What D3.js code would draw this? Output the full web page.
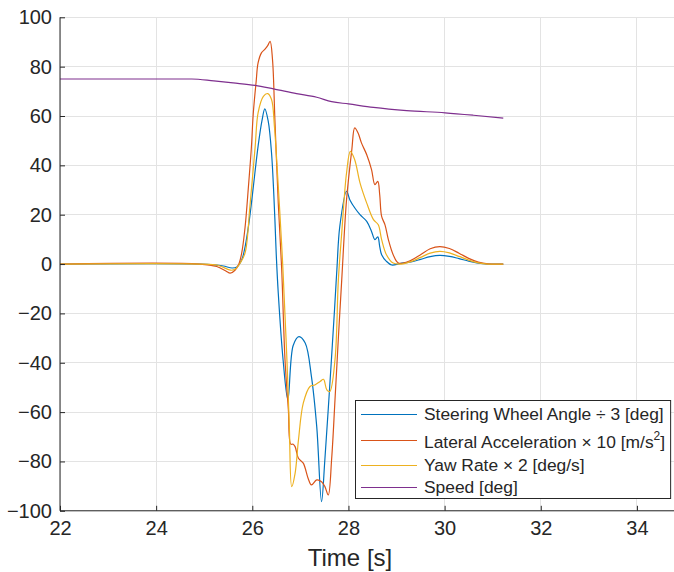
<!DOCTYPE html>
<html><head><meta charset="utf-8">
<script src="https://cdn.jsdelivr.net/npm/d3@7"></script>
<style>
body{margin:0;background:#fff}
svg{display:block}
text{font-family:"Liberation Sans",Arial,Helvetica,sans-serif;fill:#262626}
</style>
</head><body>
<svg id="c" width="674" height="572"></svg>
<script>
// ---------- data ----------
const xTicks = [22, 24, 26, 28, 30, 32, 34];
const yTicks = [-100, -80, -60, -40, -20, 0, 20, 40, 60, 80, 100];
const xLabel = "Time [s]";
const legendLabels = [
  "Steering Wheel Angle \u00F7 3 [deg]",
  "Lateral Acceleration \u00D7 10 [m/s^2]",
  "Yaw Rate \u00D7 2 [deg/s]",
  "Speed [deg]"
];
const seriesColors = ["#0072BD", "#D95319", "#EDB120", "#7E2F8E"];

const steerT = [22, 24.9, 25.2, 25.4, 25.58, 25.68, 25.78, 25.85, 25.92, 25.99, 26.06, 26.12, 26.2, 26.26, 26.33, 26.40, 26.47, 26.50, 26.54, 26.64, 26.74, 26.85, 26.97, 27.10, 27.23, 27.34, 27.44, 27.51, 27.61, 27.71, 27.76, 27.82, 27.96, 28.03, 28.14, 28.24, 28.38, 28.48, 28.55, 28.61, 28.65, 28.69, 28.79, 28.90, 29.07, 29.3, 29.5, 29.7, 29.9, 30.1, 30.3, 30.5, 30.7, 30.9, 31.22];
const steerV = [0, 0, -0.3, -0.8, -1.6, -1.2, 1.7, 7, 15.3, 26, 38, 47.7, 58, 62.9, 58, 45, 18, 3, -11.8, -38.8, -55, -33, -29.4, -32, -45.6, -65.9, -96.3, -79, -49.6, -18.5, -2, 15.3, 29.5, 26, 22.5, 20, 17.3, 13.2, 9.9, 11, 7.1, 3.8, 1.1, -0.4, 0.2, 0.9, 1.9, 3.0, 3.5, 3.1, 2.2, 1.2, 0.4, 0, 0];

const latT = [22, 24.9, 25.26, 25.45, 25.54, 25.64, 25.72, 25.78, 25.85, 25.92, 25.98, 26.02, 26.08, 26.12, 26.19, 26.26, 26.32, 26.37, 26.42, 26.47, 26.54, 26.61, 26.68, 26.75, 26.80, 26.85, 26.89, 26.96, 27.06, 27.16, 27.23, 27.34, 27.44, 27.51, 27.58, 27.65, 27.72, 27.79, 27.86, 27.96, 28.07, 28.13, 28.20, 28.27, 28.38, 28.48, 28.55, 28.61, 28.65, 28.69, 28.76, 28.83, 28.93, 29.04, 29.3, 29.5, 29.7, 29.9, 30.1, 30.3, 30.5, 30.7, 30.9, 31.22];
const latV = [0, 0, -1, -2.8, -3.7, -2.5, 0, 4.5, 15, 31.5, 47, 61, 74, 81.5, 85.6, 87, 88.5, 90.3, 82.9, 58.5, 24.7, -1.6, -38.8, -59, -73, -73, -74, -78.7, -80.7, -86.8, -89.5, -87.5, -88.2, -90.2, -93.6, -79, -55, -30, -6.4, 26, 46.4, 55.2, 53.1, 49.1, 44.3, 38.3, 32.2, 33.5, 28.1, 19.3, 15.9, 9.9, 3.8, 0.4, 1.5, 3.8, 6.2, 7.1, 6.3, 4.4, 2.3, 0.8, 0.1, 0];

const yawT = [22, 24.9, 25.3, 25.55, 25.65, 25.75, 25.85, 25.95, 26.06, 26.12, 26.23, 26.32, 26.40, 26.46, 26.54, 26.62, 26.66, 26.72, 26.77, 26.82, 26.89, 26.96, 27.06, 27.20, 27.30, 27.41, 27.48, 27.55, 27.61, 27.72, 27.79, 27.86, 27.96, 28.04, 28.13, 28.24, 28.38, 28.52, 28.62, 28.69, 28.79, 28.93, 29.1, 29.3, 29.5, 29.7, 29.9, 30.1, 30.3, 30.5, 30.7, 30.9, 31.22];
const yawV = [0, 0, -0.6, -2.5, -2, 0.5, 4.5, 23.4, 47.7, 61.3, 68, 69.1, 66.7, 55.8, 31.5, 4.5, -12, -38.8, -65.9, -90.2, -84.8, -71.3, -56.4, -49.6, -49, -47.6, -46.7, -51, -51.7, -38.8, -6.4, 12.6, 36.9, 45.7, 42.3, 32.9, 24.7, 18, 15.9, 9.9, 3.8, 0.4, 0, 1, 2.7, 4.4, 5.1, 4.5, 3.1, 1.6, 0.5, 0, 0];

const speedT = [22, 24.74, 25.2, 25.6, 26.06, 26.44, 26.92, 27.34, 27.65, 28.0, 28.52, 29.21, 30.01, 30.6, 31.22];
const speedV = [75, 75, 74.2, 73.4, 72.4, 71.0, 69.1, 67.6, 65.8, 64.9, 63.5, 62.2, 61.3, 60.3, 59.1];

// ---------- layout ----------
const svg = d3.select("#c");
const x = d3.scaleLinear().domain([22, 35]).range([60, 685]);
const y = d3.scaleLinear().domain([-100, 100]).range([510.8, 17.3]);
const axisColor = "#262626";
const gridColor = "#e3e3e3";

svg.append("defs").append("clipPath").attr("id", "clip")
  .append("rect").attr("x", 60).attr("y", 17).attr("width", 640).attr("height", 494.5);

// grid
const g = svg.append("g");
g.selectAll(".gx").data(xTicks).enter().append("line")
  .attr("x1", d => x(d)).attr("x2", d => x(d)).attr("y1", y(-100)).attr("y2", y(100))
  .attr("stroke", gridColor).attr("stroke-width", 1).attr("shape-rendering", "crispEdges");
g.selectAll(".gy").data(yTicks).enter().append("line")
  .attr("x1", x(22)).attr("x2", 674).attr("y1", d => y(d)).attr("y2", d => y(d))
  .attr("stroke", gridColor).attr("stroke-width", 1).attr("shape-rendering", "crispEdges");

// series
const series = [[steerT, steerV], [latT, latV], [yawT, yawV]];
const lineGen = d3.line().x(d => x(d[0])).y(d => y(d[1])).curve(d3.curveCatmullRom.alpha(0.5));
const plot = svg.append("g").attr("clip-path", "url(#clip)");
series.forEach((s, i) => {
  const pts = s[0].map((t, k) => [t, s[1][k]]);
  plot.append("path").attr("d", lineGen(pts)).attr("fill", "none")
    .attr("stroke", seriesColors[i]).attr("stroke-width", 1.2).attr("stroke-linejoin", "round");
});
const speedLine = d3.line().x(d => x(d[0])).y(d => y(d[1])).curve(d3.curveMonotoneX);
plot.append("path").attr("d", speedLine(speedT.map((t, k) => [t, speedV[k]])))
  .attr("fill", "none").attr("stroke", seriesColors[3]).attr("stroke-width", 1.2);

// axes
const xAxis = d3.axisBottom(x).tickValues(xTicks).tickSize(-5).tickPadding(10).tickFormat(d3.format("d"));
const gx = svg.append("g").attr("transform", `translate(0,${y(-100)})`).call(xAxis);
gx.select(".domain").attr("d", `M${x(22)},0H674`).attr("stroke", axisColor);
gx.selectAll(".tick line").attr("stroke", axisColor);
gx.selectAll(".tick text").attr("font-size", 20).style("fill", axisColor);

const yAxis = d3.axisLeft(y).tickValues(yTicks).tickSize(-5).tickPadding(8).tickFormat(d3.format("d"));
const gy = svg.append("g").attr("transform", `translate(${x(22)},0)`).call(yAxis);
gy.select(".domain").attr("d", `M0,${y(100)}V${y(-100)}`).attr("stroke", axisColor);
gy.selectAll(".tick line").attr("stroke", axisColor);
gy.selectAll(".tick text").attr("font-size", 20).style("fill", axisColor);
svg.selectAll("g").attr("font-family", null).attr("font-size", null);

svg.append("text").attr("x", 350).attr("y", 566).attr("text-anchor", "middle")
  .attr("font-size", 24).text(xLabel);

// legend
const lg = svg.append("g");
const boxX = 355, boxY = 400;
const box = lg.append("rect").attr("x", boxX + 0.5).attr("y", boxY + 0.5).attr("height", 98)
  .attr("fill", "#fff").attr("stroke", axisColor).attr("stroke-width", 1);
let rowTop = boxY + 3;
let maxW = 0;
legendLabels.forEach((lab, i) => {
  const hasSup = lab.includes("^");
  const h = hasSup ? 28 : 22.5;
  const lineY = Math.round(rowTop + h / 2) + 0.5;
  const base = rowTop + h - 5.5;
  lg.append("line").attr("x1", 361).attr("x2", 417).attr("y1", lineY).attr("y2", lineY)
    .attr("stroke", seriesColors[i]).attr("stroke-width", 1.2);
  const t = lg.append("text").attr("x", 424).attr("y", base).attr("font-size", 17.4);
  if (hasSup) {
    const m = lab.match(/^(.*)\^(\d)(.*)$/);
    t.append("tspan").text(m[1]);
    t.append("tspan").attr("font-size", 12).attr("dy", -8).text(m[2]);
    t.append("tspan").attr("dy", 8).text(m[3]);
  } else {
    t.text(lab);
  }
  maxW = Math.max(maxW, t.node().getComputedTextLength());
  rowTop += h;
});
box.attr("width", Math.min(424 + maxW + 5 - boxX, 318));
</script>
</body></html>
